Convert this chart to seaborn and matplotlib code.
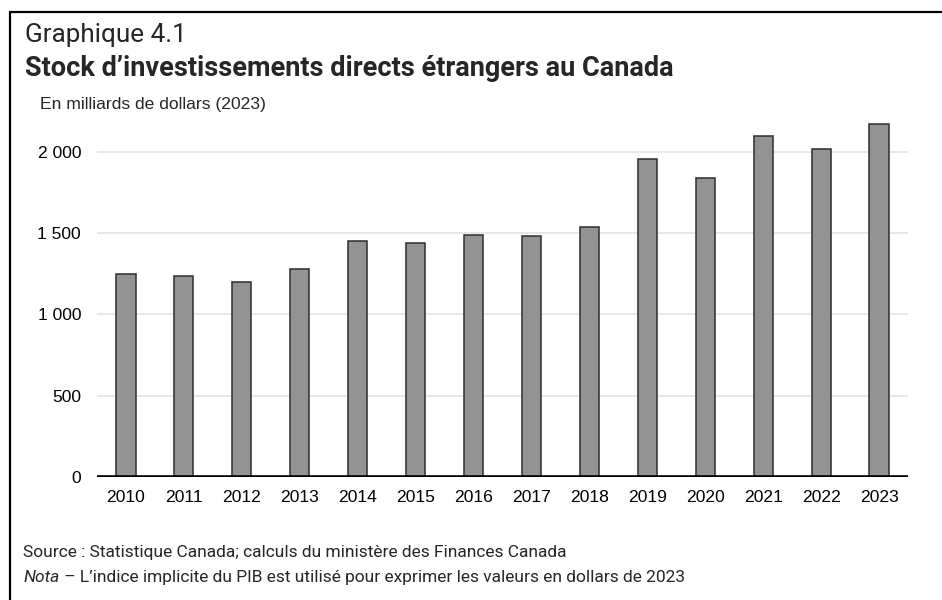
import matplotlib
matplotlib.use('Agg')
import matplotlib.pyplot as plt
import pandas as pd
import seaborn as sns
from matplotlib.lines import Line2D
from matplotlib.ticker import FuncFormatter

# data
years = ['2010', '2011', '2012', '2013', '2014', '2015', '2016',
         '2017', '2018', '2019', '2020', '2021', '2022', '2023']
stock = [1247, 1237, 1198, 1278, 1452, 1436, 1489,
         1483, 1537, 1953, 1836, 2095, 2018, 2170]
y_ticks = [0, 500, 1000, 1500, 2000]

df = pd.DataFrame({'year': years, 'stock': stock})

W, H = 942, 600
sans = ['Liberation Sans', 'DejaVu Sans']
ui = ['Roboto', 'DejaVu Sans']

sns.set_theme(style='white')
plt.rcParams['font.family'] = sans

fig = plt.figure(figsize=(W / 100, H / 100), dpi=100)
ax = fig.add_axes([97 / W, 123 / H, 811 / W, 366 / H])

sns.barplot(data=df, x='year', y='stock', ax=ax,
            color='#939393', saturation=1, width=0.33,
            edgecolor='#2e2e2e', linewidth=1.1, zorder=3)

ax.set_ylim(0, 2250)
ax.set_xlim(-0.5, len(years) - 0.5)
ax.set_yticks(y_ticks)
ax.yaxis.set_major_formatter(FuncFormatter(lambda v, p: f'{int(v):,}'.replace(',', ' ')))
ax.grid(axis='y', color='#e3e3e3', linewidth=1.2, zorder=0)
ax.axhline(0, color='black', linewidth=2.6, zorder=4)
for s in ax.spines.values():
    s.set_visible(False)
ax.tick_params(axis='both', length=0, labelsize=12.6, colors='black')
ax.tick_params(axis='y', pad=11.5)
ax.tick_params(axis='x', pad=9)
ax.set_xlabel('')
ax.set_ylabel('')

# frame around the figure (top and left)
fig.add_artist(Line2D([10 / W, 1], [1 - 12 / H, 1 - 12 / H], color='black', linewidth=1.6))
fig.add_artist(Line2D([10 / W, 10 / W], [0, 1 - 12 / H], color='black', linewidth=1.6))


def fit_width(txt, width_px, prefix=None):
    # scale a text so its rendered width (or that of a prefix) matches the reference
    probe = txt
    if prefix is not None:
        probe = fig.text(0, 0, prefix, fontsize=txt.get_fontsize(),
                         fontweight=txt.get_fontweight(), family=txt.get_fontfamily())
    fig.canvas.draw()
    bb = probe.get_window_extent()
    txt.set_fontsize(txt.get_fontsize() * width_px / bb.width)
    if prefix is not None:
        probe.remove()


t1 = fig.text(25 / W, 1 - 42 / H, 'Graphique 4.1', fontsize=16,
              family=ui, va='baseline', ha='left')
fit_width(t1, 162)
t2 = fig.text(25 / W, 1 - 76 / H, 'Stock d\u2019investissements directs étrangers au Canada',
              fontsize=16, fontweight='bold', family=ui, va='baseline', ha='left')
fit_width(t2, 447, prefix='Stock d\u2019investissements directs étra')
fig.text(40 / W, 1 - 109 / H, 'En milliards de dollars (2023)', fontsize=12.6,
         va='baseline', ha='left')

src = fig.text(23 / W, 1 - 557 / H,
               'Source : Statistique Canada; calculs du ministère des Finances Canada',
               fontsize=12, family=ui, va='baseline', ha='left')
fit_width(src, 544)
fs = src.get_fontsize()
nota = fig.text(23 / W, 1 - 582 / H, 'Nota', fontsize=fs, style='italic',
                family=ui, va='baseline', ha='left')
fig.canvas.draw()
bb = nota.get_window_extent()
fig.text(bb.x1 / W + 1 / W, 1 - 582 / H,
         ' \u2013 L\u2019indice implicite du PIB est utilisé pour exprimer les valeurs en dollars de 2023',
         fontsize=fs, family=ui, va='baseline', ha='left')

fig.savefig('out.png', dpi=100, facecolor='white')
